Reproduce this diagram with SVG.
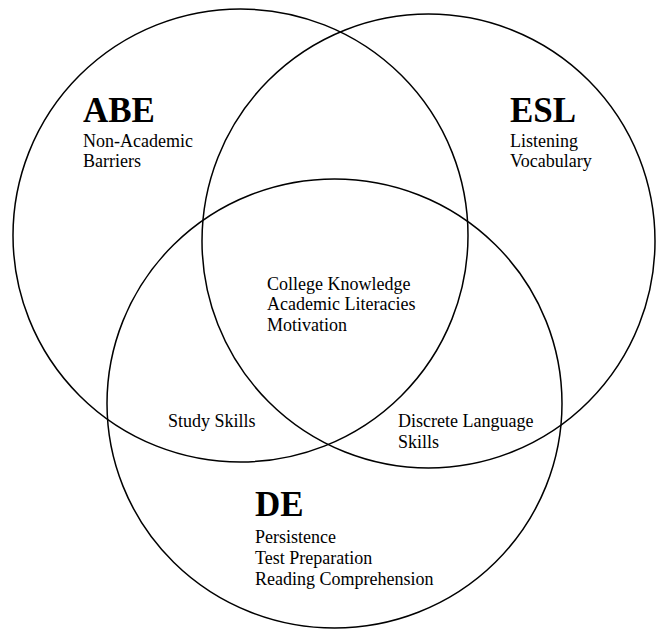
<svg xmlns="http://www.w3.org/2000/svg" width="658" height="631" viewBox="0 0 658 631">
<style>
.c{fill:none;stroke:#000;stroke-width:1.5}
.h{font-family:"Liberation Serif","Times New Roman",serif;font-size:35px;font-weight:bold;fill:#000}
.t{font-family:"Liberation Serif","Times New Roman",serif;font-size:18px;fill:#000}
</style>
<rect width="658" height="631" fill="#fff"/>
<g id="abe">
<ellipse class="c" cx="240.5" cy="235.5" rx="227.5" ry="226.5"/>
<text class="h" x="83" y="122">ABE</text>
<text class="t" x="83" y="147">Non-Academic</text>
<text class="t" x="83" y="167">Barriers</text>
</g>
<g id="esl">
<ellipse class="c" cx="428.5" cy="241" rx="226.5" ry="227"/>
<text class="h" x="510" y="122">ESL</text>
<text class="t" x="510" y="147">Listening</text>
<text class="t" x="510" y="167">Vocabulary</text>
</g>
<g id="de">
<ellipse class="c" cx="334.5" cy="403.5" rx="227.5" ry="224.5"/>
<text class="h" x="255" y="516">DE</text>
<text class="t" x="255" y="543">Persistence</text>
<text class="t" x="255" y="564">Test Preparation</text>
<text class="t" x="255" y="585">Reading Comprehension</text>
</g>
<g id="center">
<text class="t" x="267" y="290">College Knowledge</text>
<text class="t" x="267" y="310">Academic Literacies</text>
<text class="t" x="267" y="331">Motivation</text>
</g>
<g id="abe-de">
<text class="t" x="168" y="427">Study Skills</text>
</g>
<g id="esl-de">
<text class="t" x="398" y="427">Discrete Language</text>
<text class="t" x="398" y="448">Skills</text>
</g>
<g id="connectors"></g>
</svg>
